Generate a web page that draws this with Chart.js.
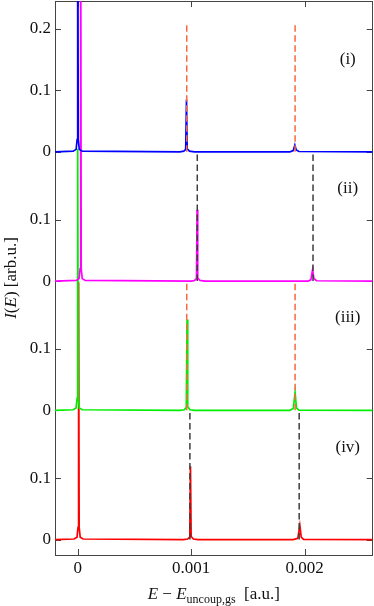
<!DOCTYPE html>
<html>
<head>
<meta charset="utf-8">
<script src="https://cdn.jsdelivr.net/npm/chart.js@4.4.1/dist/chart.umd.min.js"></script>
<style>
  html, body { margin: 0; padding: 0; background: #fff; }
  #wrap { width: 374px; height: 606px; }
</style>
</head>
<body>
<div id="wrap"><canvas id="spec"></canvas></div>
<script>
/* ---- Dados ---- */
const xMin = -0.0002;
const xMax = 0.0026;
const yMin = -0.025;
const yMax = 0.875;

const xTickValues = [0, 0.001, 0.002];
const xTickLabels = ['0', '0.001', '0.002'];
const yTickValues = [0, 0.1, 0.21, 0.31, 0.42, 0.52, 0.63, 0.73, 0.83];
const yTickLabels = ['0', '0.1', '0', '0.1', '0', '0.1', '0', '0.1', '0.2'];

const panelNames   = ['(i)', '(ii)', '(iii)', '(iv)'];
const panelOffsets = [0.63, 0.42, 0.21, 0];
const panelColors  = ['#0000ff', '#ff00ff', '#00ee00', '#ff0000'];
const labelX = 0.00238;
const labelY = 0.15;

// (i)
const energyI = [-0.0002, -0.00004, -0.000014, -0.000005, 0, 0.000005, 0.000014, 0.00004,
  0.0009, 0.000935, 0.000952, 0.000959, 0.000965, 0.000985, 0.00103,
  0.00187, 0.0019, 0.001914, 0.001926, 0.00195, 0.0026];
const intensityI = [0, 0.001, 0.004, 0.02, 0.5, 0.02, 0.004, 0.001,
  0, 0.001, 0.004, 0.085, 0.005, 0.001, 0,
  0, 0.002, 0.011, 0.003, 0.0005, 0];
// (ii)
const energyII = [-0.0002, -0.000014, 0.000012, 0.000021, 0.000026, 0.000031, 0.00004, 0.000066,
  0.001, 0.00103, 0.001047, 0.001052, 0.001058, 0.001078, 0.00112,
  0.00203, 0.002055, 0.00207, 0.002082, 0.002105, 0.0026];
const intensityII = [0, 0.001, 0.004, 0.02, 0.7, 0.02, 0.004, 0.001,
  0, 0.001, 0.004, 0.116, 0.005, 0.001, 0,
  0, 0.002, 0.0185, 0.004, 0.0005, 0];
// (iii)
const energyIII = [-0.0002, -0.00004, -0.000014, -0.000005, 0, 0.000005, 0.000014, 0.00004,
  0.0009, 0.00094, 0.000957, 0.000964, 0.00097, 0.00099, 0.00103,
  0.00187, 0.0019, 0.001916, 0.001928, 0.00195, 0.0026];
const intensityIII = [0, 0.001, 0.004, 0.02, 0.425, 0.02, 0.004, 0.001,
  0, 0.001, 0.005, 0.1475, 0.006, 0.001, 0,
  0, 0.003, 0.029, 0.004, 0.0005, 0];
// (iv)
const energyIV = [-0.0002, -0.000032, -0.000006, 0.000003, 0.000008, 0.000013, 0.000022, 0.000048,
  0.00093, 0.00097, 0.000988, 0.000994, 0.001, 0.00102, 0.00106,
  0.0019, 0.00194, 0.001958, 0.00197, 0.00199, 0.0026];
const intensityIV = [0, 0.001, 0.004, 0.02, 0.418, 0.02, 0.004, 0.001,
  0, 0.001, 0.004, 0.119, 0.005, 0.001, 0,
  0, 0.002, 0.023, 0.004, 0.0005, 0];

// linhas tracejadas de referência
const dashEnergies = [
  [0.000961, 0.001916],
  [0.001054, 0.002074],
  [0.000961, 0.001916],
  [0.000989, 0.001952],
];
const dashColors = ['#f8683f', '#3c3c3c', '#f8683f', '#3c3c3c'];
const dashTop = 0.207;

const spectra = [
  [energyI, intensityI],
  [energyII, intensityII],
  [energyIII, intensityIII],
  [energyIV, intensityIV],
];

/* ---- Datasets ---- */
const datasets = [];
spectra.forEach(([xs, ys], p) => {
  const off = panelOffsets[p];
  dashEnergies[p].forEach(e => {
    datasets.push({
      data: [{ x: e, y: off }, { x: e, y: off + dashTop }],
      borderColor: dashColors[p],
      borderWidth: 1.5,
      borderDash: [6.5, 3.5],
      pointRadius: 0,
    });
  });
  datasets.push({
    data: xs.map((x, i) => ({ x: x, y: ys[i] + off })),
    borderColor: panelColors[p],
    borderWidth: 1.7,
    pointRadius: 0,
  });
});

const SERIF = "'Liberation Serif', 'DejaVu Serif', serif";

/* ---- Moldura, ticks internos, rótulos ---- */
const decorPlugin = {
  id: 'decor',
  beforeDatasetsDraw(chart) {
    const { ctx, chartArea: a, scales } = chart;
    ctx.save();
    ctx.strokeStyle = '#444';
    ctx.lineWidth = 1;
    ctx.beginPath();
    scales.x.ticks.forEach(t => {
      const px = Math.round(scales.x.getPixelForValue(t.value)) + 0.5;
      ctx.moveTo(px, a.bottom); ctx.lineTo(px, a.bottom - 6);
      ctx.moveTo(px, a.top); ctx.lineTo(px, a.top + 6);
    });
    scales.y.ticks.forEach(t => {
      const py = Math.round(scales.y.getPixelForValue(t.value)) + 0.5;
      ctx.moveTo(a.left, py); ctx.lineTo(a.left + 6, py);
      ctx.moveTo(a.right, py); ctx.lineTo(a.right - 6, py);
    });
    ctx.stroke();
    ctx.strokeRect(Math.round(a.left) + 0.5, Math.round(a.top) + 0.5,
      Math.round(a.right - a.left) - 1, Math.round(a.bottom - a.top));
    ctx.restore();
  },
  afterDraw(chart) {
    const { ctx, chartArea: a, scales } = chart;
    ctx.save();
    ctx.fillStyle = '#111';
    ctx.font = '17px ' + SERIF;
    ctx.textAlign = 'center';
    ctx.textBaseline = 'middle';
    panelNames.forEach((n, p) => {
      ctx.fillText(n, scales.x.getPixelForValue(labelX),
        scales.y.getPixelForValue(panelOffsets[p] + labelY));
    });

    // título do eixo x
    const xParts = [
      ['E', 'italic 17px ' + SERIF, 0],
      [' \u2212 ', '17px ' + SERIF, 0],
      ['E', 'italic 17px ' + SERIF, 0],
      ['uncoup,gs', '12px ' + SERIF, 3.5],
      ['  [a.u.]', '17px ' + SERIF, 0],
    ];
    drawParts(ctx, xParts, (a.left + a.right) / 2, 599);

    // título do eixo y
    const yParts = [
      ['I', 'italic 17px ' + SERIF, 0],
      ['(', '17px ' + SERIF, 0],
      ['E', 'italic 17px ' + SERIF, 0],
      [')', '17px ' + SERIF, 0],
      [' [arb.u.]', '17px ' + SERIF, 0],
    ];
    ctx.translate(15.5, (a.top + a.bottom) / 2);
    ctx.rotate(-Math.PI / 2);
    drawParts(ctx, yParts, 0, 0);
    ctx.restore();
  },
};

function drawParts(ctx, parts, cx, baseY) {
  ctx.textAlign = 'left';
  ctx.textBaseline = 'alphabetic';
  let total = 0;
  parts.forEach(([txt, font]) => { ctx.font = font; total += ctx.measureText(txt).width; });
  let x = cx - total / 2;
  parts.forEach(([txt, font, dy]) => {
    ctx.font = font;
    ctx.fillText(txt, x, baseY + dy);
    x += ctx.measureText(txt).width;
  });
}

new Chart(document.getElementById('spec'), {
  type: 'line',
  data: { datasets },
  plugins: [decorPlugin],
  options: {
    responsive: true,
    maintainAspectRatio: false,
    animation: false,
    layout: { padding: { top: 1, right: 1.3, left: 0, bottom: 0 } },
    plugins: { legend: { display: false }, tooltip: { enabled: false } },
    scales: {
      x: {
        type: 'linear',
        min: xMin,
        max: xMax,
        grid: { display: false, drawTicks: false },
        border: { display: false },
        afterBuildTicks: s => { s.ticks = xTickValues.map(v => ({ value: v })); },
        afterFit: s => { s.height = 51; s.paddingLeft = 0; s.paddingRight = 0; },
        ticks: {
          color: '#111',
          padding: 3,
          maxRotation: 0,
          font: { family: SERIF, size: 17 },
          callback: (v, i) => xTickLabels[i],
        },
      },
      y: {
        type: 'linear',
        min: yMin,
        max: yMax,
        grid: { display: false, drawTicks: false },
        border: { display: false },
        afterBuildTicks: s => { s.ticks = yTickValues.map(v => ({ value: v })); },
        afterFit: s => { s.width = 55; s.paddingTop = 0; s.paddingBottom = 0; },
        ticks: {
          color: '#111',
          padding: 4,
          font: { family: SERIF, size: 17 },
          callback: (v, i) => yTickLabels[i],
        },
      },
    },
  },
});
</script>
</body>
</html>
